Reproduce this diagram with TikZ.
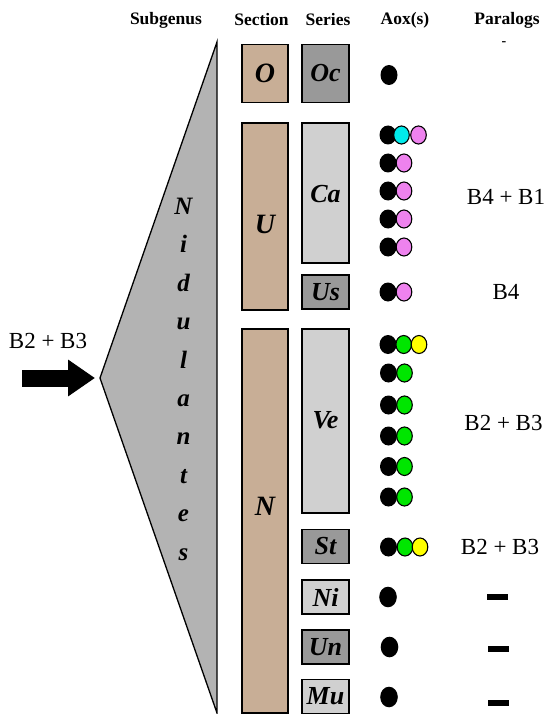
\documentclass[tikz,border=0pt]{standalone}
\usepackage{fontspec}
\setmainfont{Liberation Serif}
\usetikzlibrary{arrows.meta}

\definecolor{sectan}{RGB}{200,174,150}
\definecolor{serdark}{RGB}{153,153,153}
\definecolor{serlight}{RGB}{208,208,208}
\definecolor{subgrey}{RGB}{179,179,179}
\definecolor{aoxcyan}{RGB}{0,235,235}
\definecolor{aoxpink}{RGB}{238,130,238}
\definecolor{aoxgreen}{RGB}{0,230,0}
\definecolor{aoxyellow}{RGB}{255,255,0}

\tikzset{
  header/.style={font=\fontsize{17.5}{20}\selectfont\bfseries, inner sep=0pt},
  paralog/.style={font=\fontsize{23}{26}\selectfont, inner sep=0pt},
  seclabel/.style={font=\fontsize{28}{32}\selectfont\bfseries\itshape, inner sep=0pt},
  serlabel/.style={font=\fontsize{26}{30}\selectfont\bfseries\itshape, inner sep=0pt},
  subletter/.style={font=\fontsize{25}{28}\selectfont\bfseries\itshape, inner sep=0pt, anchor=base},
  secbox/.style={draw=black, line width=1.4pt, fill=sectan, minimum width=46pt, inner sep=0pt},
  serbox/.style={draw=black, line width=1.4pt, minimum width=47pt, inner sep=0pt},
  darkser/.style={serbox, fill=serdark},
  lightser/.style={serbox, fill=serlight},
  kdot/.style={fill=black},
  cdot/.style={draw=black, line width=1.1pt},
  nodash/.style={fill=black, minimum width=21pt, minimum height=6pt, inner sep=0pt}
}

\begin{document}
\begin{tikzpicture}[x=1pt,y=-1pt]
\useasboundingbox (0,0) rectangle (548,714);

% column headers
\node[header] (hSub) at (166,20) {Subgenus};
\node[header] (hSec) at (261.5,20) {Section};
\node[header] (hSer) at (328,20) {Series};
\node[header] (hAox) at (405,20) {Aox(s)};
\node[header] (hPar) at (507,20) {Paralogs};
\node[font=\fontsize{14}{16}\selectfont\bfseries, inner sep=0pt] (parO) at (504,44) {-};

% subgenus wedge
\coordinate (wTop) at (217,42);
\coordinate (wTip) at (100,378);
\coordinate (wBot) at (217,713);
\draw[fill=subgrey, line width=1.3pt, line join=miter] (wTop) -- (wTip) -- (wBot) -- cycle;
\foreach \ch [count=\k from 0] in {N,i,d,u,l,a,n,t,e,s}
  \node[subletter] (sub\k) at (183.5,214.5+38.4*\k) {\ch};

% incoming arrow
\node[paralog] (inLab) at (48,341) {B2 + B3};
\coordinate (arrTail) at (22,378);
\draw[line width=17pt, -{Triangle[length=27pt,width=35pt]}] (arrTail) -- ([xshift=-5pt]wTip);

% sections
\node[secbox, minimum height=58pt] (secO) at (265,73.5) {};
\node[seclabel] (secOlab) at (265,73) {O};
\node[secbox, minimum height=187pt] (secU) at (265,216.5) {};
\node[seclabel] (secUlab) at (265,224) {U};
\node[secbox, minimum height=384pt] (secN) at (265,521) {};
\node[seclabel] (secNlab) at (265,506) {N};

% series
\node[darkser, minimum height=58pt] (serOc) at (325.5,73.5) {};
\node[serlabel] (serOclab) at (325.5,73) {Oc};
\node[lightser, minimum height=140pt] (serCa) at (325.5,193) {};
\node[serlabel] (serCalab) at (325.5,194) {Ca};
\node[darkser, minimum height=34pt] (serUs) at (325.5,292) {};
\node[serlabel] (serUslab) at (325.5,292) {Us};
\node[lightser, minimum height=184pt] (serVe) at (325.5,421) {};
\node[serlabel] (serVelab) at (325.5,420) {Ve};
\node[darkser, minimum height=34pt] (serSt) at (325.5,546.5) {};
\node[serlabel] (serStlab) at (325.5,546.5) {St};
\node[lightser, minimum height=34pt] (serNi) at (325.5,597) {};
\node[serlabel] (serNilab) at (325.5,597) {Ni};
\node[darkser, minimum height=34pt] (serUn) at (325.5,647) {};
\node[serlabel] (serUnlab) at (325.5,647) {Un};
\node[lightser, minimum height=34pt] (serMu) at (325.5,696.5) {};
\node[serlabel] (serMulab) at (325.5,696.5) {Mu};

% Aox dots
% Oc
\fill[kdot] (389,75) ellipse [x radius=8.5pt, y radius=10pt];
% Ca
\fill[kdot] (388,135) ellipse [x radius=8.5pt, y radius=9.5pt];
\filldraw[cdot, fill=aoxcyan] (401.5,135) ellipse [x radius=7.8pt, y radius=9pt];
\filldraw[cdot, fill=aoxpink] (418.5,135) ellipse [x radius=7.8pt, y radius=9pt];
\foreach \yy in {163,191,219,247} {
  \fill[kdot] (388,\yy) ellipse [x radius=8.5pt, y radius=9.5pt];
  \filldraw[cdot, fill=aoxpink] (404,\yy) ellipse [x radius=7.8pt, y radius=9pt];
}
% Us
\fill[kdot] (388,292) ellipse [x radius=8.5pt, y radius=9.5pt];
\filldraw[cdot, fill=aoxpink] (404,292) ellipse [x radius=7.8pt, y radius=9pt];
% Ve
\fill[kdot] (388,344.5) ellipse [x radius=8.5pt, y radius=9.5pt];
\filldraw[cdot, fill=aoxgreen] (403.7,344.5) ellipse [x radius=7.8pt, y radius=9pt];
\filldraw[cdot, fill=aoxyellow] (419,344.5) ellipse [x radius=7.8pt, y radius=9pt];
\foreach \yy in {373,405,436,466.5,497} {
  \fill[kdot] (388.5,\yy) ellipse [x radius=8.5pt, y radius=9.5pt];
  \filldraw[cdot, fill=aoxgreen] (404.5,\yy) ellipse [x radius=7.8pt, y radius=9pt];
}
% St
\fill[kdot] (388.5,547) ellipse [x radius=8.5pt, y radius=9.5pt];
\filldraw[cdot, fill=aoxgreen] (405,547) ellipse [x radius=7.8pt, y radius=9pt];
\filldraw[cdot, fill=aoxyellow] (420,547) ellipse [x radius=7.8pt, y radius=9pt];
% Ni, Un, Mu
\fill[kdot] (388,597) ellipse [x radius=8.8pt, y radius=10.3pt];
\fill[kdot] (389.5,647) ellipse [x radius=8.8pt, y radius=10.3pt];
\fill[kdot] (389,697) ellipse [x radius=8.8pt, y radius=10.3pt];

% paralogs
\node[paralog] (parCa) at (506,197) {B4 + B1};
\node[paralog] (parUs) at (506,292) {B4};
\node[paralog] (parVe) at (503.5,423) {B2 + B3};
\node[paralog] (parSt) at (500,547) {B2 + B3};
\node[nodash] (parNi) at (497.5,597) {};
\node[nodash] (parUn) at (498,649) {};
\node[nodash] (parMu) at (498,702.5) {};
\end{tikzpicture}
\end{document}
